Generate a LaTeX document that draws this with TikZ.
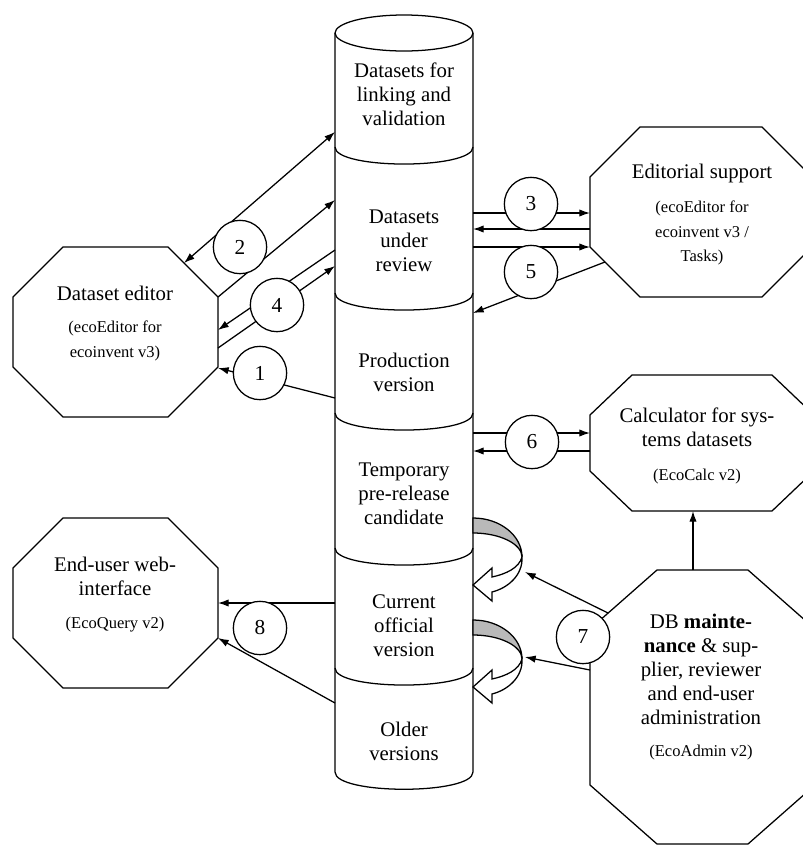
\documentclass[tikz,border=0pt]{standalone}
\usepackage{fontspec}
\setmainfont{Liberation Serif}
\usetikzlibrary{arrows.meta}
\begin{document}
\begin{tikzpicture}[x=0.75pt,y=-0.75pt,line width=0.95pt,
  tip/.tip={Latex[length=8pt,width=5.5pt]},
  arr/.style={-tip},
  darr/.style={tip-tip},
  num/.style={circle,draw,fill=white,minimum size=40pt,inner sep=0pt,font=\fontsize{16}{18}\selectfont},
  big/.style={align=center,font=\fontsize{15.6}{18}\selectfont,inner sep=0pt},
  small/.style={align=center,font=\fontsize{12.4}{18.5}\selectfont,inner sep=0pt},
  octo/.style={draw,fill=white},
  band/.style={draw,fill=gray!55},
  ribbon/.style={draw,fill=white}]
\useasboundingbox (0,0) rectangle (803,847);
\clip (0,0) rectangle (803,847);

% ---------- cylinder ----------
\draw (335,33) -- (335,772) .. controls (335,795) and (473,795) .. (473,772) -- (473,33);
\draw (404,33) ellipse [x radius=69,y radius=18];
\foreach \yy in {147,293,413,548,668}
  \draw (335,\yy) .. controls (335,\yy+22.7) and (473,\yy+22.7) .. (473,\yy);

\node[big] (c1) at (404,94) {Datasets for\\linking and\\validation};
\node[big] (c2) at (404,241) {Datasets\\under\\review};
\node[big] (c3) at (404,372) {Production\\version};
\node[big] (c4) at (404,494) {Temporary\\pre-release\\candidate};
\node[big] (c5) at (404,626) {Current\\official\\version};
\node[big] (c6) at (404,741) {Older\\versions};

% ---------- octagons ----------
\draw[octo] (63,247) -- (168,247) -- (218,297) -- (218,367) -- (168,417) -- (63,417) -- (13,367) -- (13,297) -- cycle;
\node[big] (de) at (115,293) {Dataset editor};
\node[small] (des) at (115,341) {(ecoEditor for\\ecoinvent v3)};

\draw[octo] (640,127) -- (762,127) -- (812,177) -- (812,247) -- (762,297) -- (640,297) -- (590,247) -- (590,177) -- cycle;
\node[big] (es) at (702,173) {Editorial support};
\node[small] (ess) at (702,233) {(ecoEditor for\\ecoinvent v3 /\\Tasks)};

\draw[octo] (632,375) -- (772,375) -- (814,415) -- (814,471) -- (772,511) -- (632,511) -- (590,471) -- (590,415) -- cycle;
\node[big] (ca) at (697,427) {Calculator for sys-\\tems datasets};
\node[small] (cas) at (697,477) {(EcoCalc v2)};

\draw[octo] (63,518) -- (168,518) -- (218,568) -- (218,638) -- (168,688) -- (63,688) -- (13,638) -- (13,568) -- cycle;
\node[big] (eu) at (115,576) {End-user web-\\interface};
\node[small] (eus) at (115,625) {(EcoQuery v2)};

\draw[octo] (657,570) -- (748,570) -- (815,629) -- (815,785) -- (748,844) -- (657,844) -- (590,785) -- (590,629) -- cycle;
\node[big] (db) at (701,669) {DB \textbf{mainte-}\\\textbf{nance} \& sup-\\plier, reviewer\\and end-user\\administration};
\node[small] (dbs) at (701,753) {(EcoAdmin v2)};

% ---------- connector end points ----------
\coordinate (p2a) at (335,132);  \coordinate (q2a) at (184,263);
\coordinate (p2b) at (218,297);  \coordinate (q2b) at (335,200);
\coordinate (p4a) at (335,250);  \coordinate (q4a) at (218,330);
\coordinate (p4b) at (218,348);  \coordinate (q4b) at (335,266);
\coordinate (p1)  at (335,398);  \coordinate (q1)  at (218,368);
\coordinate (p3a) at (473,213);  \coordinate (q3a) at (590,213);
\coordinate (p3b) at (590,229);  \coordinate (q3b) at (473,229);
\coordinate (p5a) at (473,247);  \coordinate (q5a) at (590,247);
\coordinate (p5b) at (605,262);  \coordinate (q5b) at (473,313);
\coordinate (p6a) at (473,433);  \coordinate (q6a) at (590,433);
\coordinate (p6b) at (590,451);  \coordinate (q6b) at (473,451);
\coordinate (p7a) at (608,613);  \coordinate (q7a) at (525,572);
\coordinate (p7b) at (590,670);  \coordinate (q7b) at (525,657);
\coordinate (p8a) at (335,603);  \coordinate (q8a) at (218,603);
\coordinate (p8b) at (335,703);  \coordinate (q8b) at (218,638);
\coordinate (pdb) at (693,570);  \coordinate (qdb) at (693,511);

\draw[darr] (p2a) -- (q2a);
\draw[arr] (p2b) -- (q2b);
\draw[arr] (p4a) -- (q4a);
\draw[arr] (p4b) -- (q4b);
\draw[arr] (p1) -- (q1);
\draw[arr] (p3a) -- (q3a);
\draw[arr] (p3b) -- (q3b);
\draw[arr] (p5a) -- (q5a);
\draw[arr] (p5b) -- (q5b);
\draw[arr] (p6a) -- (q6a);
\draw[arr] (p6b) -- (q6b);
\draw[arr] (p8a) -- (q8a);
\draw[arr] (p8b) -- (q8b);
\draw[arr] (pdb) -- (qdb);

% ---------- curved arrows ----------
\foreach \dy in {0,102}{
  \draw[band] (473,518+\dy) .. controls (500,518+\dy) and (522,535.5+\dy) .. (522,557+\dy)
     .. controls (522,544+\dy) and (500,533+\dy) .. (473,533+\dy) -- cycle;
  \draw[ribbon] (522,557+\dy) .. controls (523,575+\dy) and (508,588+\dy) .. (492,592+\dy)
     -- (492,601+\dy) -- (473,585+\dy) -- (492,568+\dy) -- (492,577+\dy)
     .. controls (506,574+\dy) and (519,568+\dy) .. (522,557+\dy) -- cycle;
}
\draw[arr] (p7a) -- (q7a);
\draw[arr] (p7b) -- (q7b);

% ---------- numbered circles ----------
\node[num] (n1) at (260,373) {1};
\node[num] (n2) at (240,247) {2};
\node[num] (n3) at (531,204) {3};
\node[num] (n4) at (277,305) {4};
\node[num] (n5) at (531,272) {5};
\node[num] (n6) at (532,442) {6};
\node[num] (n7) at (583,637) {7};
\node[num] (n8) at (260,628) {8};
\end{tikzpicture}
\end{document}
